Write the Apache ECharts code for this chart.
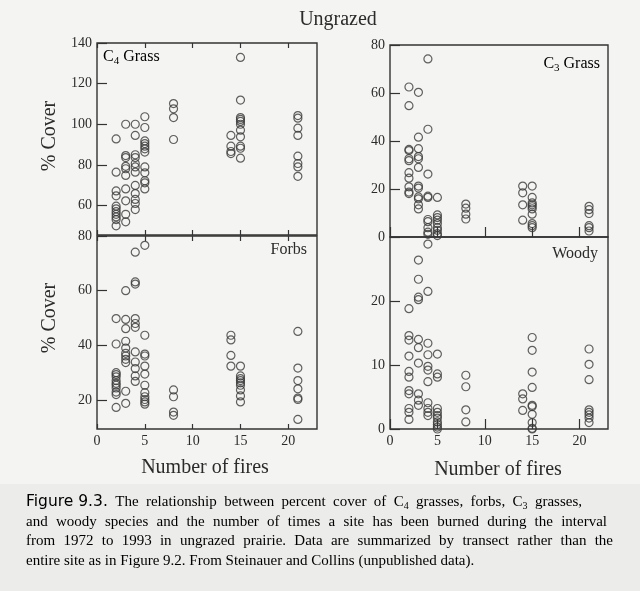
<!DOCTYPE html>
<html><head><meta charset="utf-8">
<script src="https://cdn.jsdelivr.net/npm/echarts@6/dist/echarts.min.js"></script>
<style>html,body{margin:0;padding:0;background:#f4f4f2;} #c{width:640px;height:591px;}</style>
</head><body><div id="c"></div>
<script>
// ---- data ----
const fireCounts = [2, 3, 4, 5, 8, 14, 15, 21];
// values per fire count (same order as fireCounts)
const c4Grass = [
  [92.8, 76.4, 67.2, 64.8, 59.7, 58.4, 57, 55.7, 54.4, 53.1, 50],
  [100, 84.6, 83.6, 79.3, 78.1, 74.8, 68.2, 62.3, 55.7, 52],
  [100, 94.5, 85, 83.6, 80.7, 79, 76.4, 69.9, 65.9, 63, 61, 58],
  [103.7, 98.4, 91.8, 90.5, 89.2, 87.9, 86.3, 79, 76.1, 72.2, 71.2, 68.2],
  [110.2, 107.6, 103.3, 92.5],
  [94.5, 89.2, 86.6, 85.6],
  [132.9, 111.9, 103.3, 102.4, 101.4, 100, 97.1, 93.8, 89.2, 88.2, 83.3],
  [104.3, 103, 98.1, 94.5, 84.3, 80.7, 79, 74.4]
];
const c3Grass = [
  [62.5, 54.7, 36.5, 36, 32.6, 31.8, 26.8, 24.5, 20.9, 18.7, 18.1],
  [60.3, 41.6, 36.8, 33.5, 32.6, 29, 21.2, 20.4, 16.7, 15.9, 13.4, 11.7],
  [74.2, 44.9, 26.2, 17, 16.5, 7.3, 6.4, 3.9, 2, 1.1],
  [16.5, 9.2, 8.1, 7, 5.6, 3.9, 2.8, 1.4, 0.6],
  [13.7, 12, 9.5, 7.5],
  [21.2, 18.4, 13.4, 7],
  [21.2, 16.5, 14.2, 13.4, 12.6, 11.7, 9.5, 5.6, 4.7, 3.9],
  [12.8, 11.4, 9.8, 4.7, 3.9, 2.5]
];
const forbs = [
  [49.8, 40.5, 30, 29.3, 28.5, 27.1, 26.1, 25.4, 24.4, 22.9, 22, 17.3],
  [60, 49.5, 46.1, 41.5, 39, 37.1, 36.1, 34.9, 33.7, 23.2, 18.8],
  [74.1, 63.2, 62.4, 49.8, 48, 46.6, 37.6, 33.9, 31.5, 28.8, 26.8],
  [76.6, 43.7, 36.8, 36.1, 32.4, 29.5, 25.4, 22.7, 21.2, 20.2, 19.3, 18.5],
  [23.7, 21.2, 15.6, 14.4],
  [43.7, 42, 36.3, 32.4],
  [32.4, 28.8, 27.8, 27.1, 26.3, 25.4, 23.7, 21.5, 19.3],
  [45.1, 31.7, 27.1, 24.1, 20.7, 20.2, 12.9]
];
const woody = [
  [18.8, 14.6, 13.9, 11.4, 9, 8.1, 6, 5.5, 3.2, 2.6, 1.5],
  [26.4, 23.4, 20.6, 20.2, 14, 12.7, 10.3, 5.5, 4.5, 3.7],
  [28.9, 21.5, 13.4, 11.6, 9.8, 9.2, 7.4, 4.1, 3.2, 2.6, 2.1],
  [11.7, 8.6, 8.1, 3.2, 2.6, 2.1, 1.7, 1.1, 0.7, 0.3, 0],
  [8.4, 6.6, 3, 1.1],
  [5.5, 4.7, 2.9],
  [14.3, 12.3, 8.9, 6.5, 3.7, 3.5, 2.3, 1, 0.1, 0],
  [12.5, 10.1, 7.7, 3, 2.6, 2.2, 1.7, 1]
];
const xTicks = [0, 5, 10, 15, 20];
const c4Ticks = [60, 80, 100, 120, 140];
const c3Ticks = [0, 20, 40, 60, 80];
const forbTicks = [20, 40, 60, 80];
const woodyTicks = [0, 10, 20];

// ---- build ----
const SERIF = "'Liberation Serif', 'DejaVu Serif', serif";
const SANS = "'DejaVu Sans', 'Liberation Sans', sans-serif";
const TXT = '#2b2b2b';
const LINE = '#333';
const TL = 5; // tick length (drawn inward via negative offset)

function pairs(cols) {
  const out = [];
  cols.forEach((vals, i) => vals.forEach(v => out.push([fireCounts[i], v])));
  return out;
}

const panels = [
  { data: c4Grass, grid: { left: 97, top: 43, width: 220, height: 192 }, ymin: 45.5, ymax: 140, yt: c4Ticks, showX: false },
  { data: c3Grass, grid: { left: 390, top: 45, width: 218, height: 192 }, ymin: 0, ymax: 80, yt: c3Ticks, showX: false },
  { data: forbs, grid: { left: 97, top: 236, width: 220, height: 193 }, ymin: 9.4, ymax: 80, yt: forbTicks, showX: true },
  { data: woody, grid: { left: 390, top: 237, width: 218, height: 192 }, ymin: 0, ymax: 30, yt: woodyTicks, showX: true }
];

const grids = [], xAxes = [], yAxes = [], series = [];
panels.forEach((p, i) => {
  grids.push(Object.assign({ show: true, borderColor: LINE, borderWidth: 1.4, backgroundColor: 'transparent' }, p.grid));
  const tick = { inside: false, length: TL, lineStyle: { color: LINE, width: 1.2 } };
  const base = { type: 'value', gridIndex: i, offset: -TL, axisLine: { show: false }, splitLine: { show: false } };
  xAxes.push(Object.assign({}, base, {
    min: 0, max: 23, position: 'bottom',
    axisTick: Object.assign({ customValues: xTicks }, tick),
    axisLabel: { show: p.showX, customValues: xTicks, margin: 5 + TL, fontFamily: SERIF, fontSize: 14, color: TXT }
  }));
  xAxes.push(Object.assign({}, base, {
    min: 0, max: 23, position: 'top',
    axisTick: Object.assign({ customValues: xTicks }, tick),
    axisLabel: { show: false }
  }));
  yAxes.push(Object.assign({}, base, {
    min: p.ymin, max: p.ymax, position: 'left',
    axisTick: Object.assign({ customValues: p.yt }, tick),
    axisLabel: { customValues: p.yt, margin: 5 + TL, fontFamily: SERIF, fontSize: 14, color: TXT }
  }));
  yAxes.push(Object.assign({}, base, {
    min: p.ymin, max: p.ymax, position: 'right',
    axisTick: Object.assign({ customValues: p.yt }, tick),
    axisLabel: { show: false }
  }));
  series.push({
    type: 'scatter', xAxisIndex: 2 * i, yAxisIndex: 2 * i,
    data: pairs(p.data), symbol: 'circle', symbolSize: 8,
    itemStyle: { color: 'rgba(0,0,0,0)', borderColor: '#3a3a3a', borderWidth: 1.2 },
    emphasis: { disabled: true }, silent: true
  });
});

function txt(text, x, y, size, opts) {
  return Object.assign({
    type: 'text', x: x, y: y, silent: true,
    style: Object.assign({ text: text, font: size + 'px ' + SERIF, fill: TXT, align: 'center', verticalAlign: 'middle' }, (opts && opts.style) || {})
  }, opts && opts.el || {});
}

const subRich = {
  n: { fontFamily: SERIF, fontSize: 16, color: TXT },
  s: { fontFamily: SERIF, fontSize: 11, color: TXT, padding: [9, 0, 0, 0] }
};

// ---- caption (justified lines) ----
const CAP = '#2a2a2a';
const capFonts = { f: { fam: SANS, size: 15.5 }, n: { fam: SERIF, size: 15 }, s: { fam: SERIF, size: 10 } };
const capRich = {
  f: { fontFamily: SANS, fontSize: 15.5, color: CAP },
  n: { fontFamily: SERIF, fontSize: 15, color: CAP },
  s: { fontFamily: SERIF, fontSize: 10, color: CAP, padding: [9, 0, 0, 0] }
};
const capLines = [
  { words: ['{f|Figure 9.3.}', 'The', 'relationship', 'between', 'percent', 'cover', 'of', 'C{s|4}', 'grasses,', 'forbs,', 'C{s|3}', 'grasses,'], right: 582 },
  { words: 'and woody species and the number of times a site has been burned during the interval'.split(' '), right: 607 },
  { words: 'from 1972 to 1993 in ungrazed prairie. Data are summarized by transect rather than the'.split(' '), right: 613 },
  { words: 'entire site as in Figure 9.2. From Steinauer and Collins (unpublished data).'.split(' '), right: null }
];
const mctx = document.createElement('canvas').getContext('2d');
function tokens(word) {
  const out = []; const re = /\{(\w)\|([^}]*)\}|([^{]+)/g; let m;
  while ((m = re.exec(word))) out.push(m[1] ? [m[1], m[2]] : ['n', m[3]]);
  return out;
}
function wordWidth(word) {
  return tokens(word).reduce((w, t) => { const f = capFonts[t[0]]; mctx.font = f.size + 'px ' + f.fam; return w + mctx.measureText(t[1]).width; }, 0);
}
function richOf(word) { return tokens(word).map(t => '{' + t[0] + '|' + t[1] + '}').join(''); }

const graphic = [
  { type: 'rect', shape: { x: 0, y: 484, width: 640, height: 107 }, style: { fill: '#ececea' }, silent: true, z: -10 },
  txt('Ungrazed', 338, 20, 20),
  txt('% Cover', 50, 136, 20, { el: { rotation: Math.PI / 2 } }),
  txt('% Cover', 50, 318, 20, { el: { rotation: Math.PI / 2 } }),
  txt('Number of fires', 205, 468, 20),
  txt('Number of fires', 498, 470, 20),
  { type: 'text', x: 103, y: 57, silent: true, style: { text: '{n|C}{s|4}{n| Grass}', rich: subRich, align: 'left', verticalAlign: 'middle' } },
  { type: 'text', x: 600, y: 64, silent: true, style: { text: '{n|C}{s|3}{n| Grass}', rich: subRich, align: 'right', verticalAlign: 'middle' } },
  txt('Forbs', 307, 250, 16, { style: { align: 'right' } }),
  txt('Woody', 598, 254, 16, { style: { align: 'right' } })
];
const CAP_LEFT = 26;
mctx.font = '15px ' + SERIF;
const spaceW = mctx.measureText(' ').width;
capLines.forEach((line, li) => {
  const widths = line.words.map(wordWidth);
  const total = widths.reduce((a, b) => a + b, 0);
  const gap = line.right ? (line.right - CAP_LEFT - total) / (line.words.length - 1) : spaceW;
  let x = CAP_LEFT;
  const y = 502 + li * 19.6;
  line.words.forEach((w, wi) => {
    graphic.push({ type: 'text', x: x, y: y, silent: true, style: { text: richOf(w), rich: capRich, align: 'left', verticalAlign: 'middle' } });
    x += widths[wi] + gap;
  });
});

const chart = echarts.init(document.getElementById('c'), null, { renderer: 'canvas' });
chart.setOption({
  backgroundColor: '#f4f4f2',
  animation: false,
  grid: grids, xAxis: xAxes, yAxis: yAxes, series: series,
  graphic: graphic
});
</script></body></html>
